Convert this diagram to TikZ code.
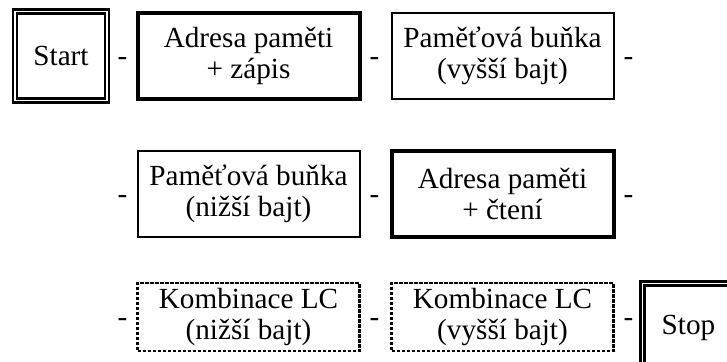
\documentclass[tikz,border=0pt]{standalone}
\usepackage{fontspec}
\setmainfont{Liberation Serif}
\usetikzlibrary{calc}
\tikzset{
    block/.style = {draw, rectangle, inner sep=0pt,
        minimum height=43pt,
        minimum width=111pt, align=center,
        font=\fontsize{14.6}{15.3}\selectfont},
    textblock/.style = {block, execute at begin node={\rule{0pt}{13pt}}},
    thickblock/.style = {textblock, line width=2pt},
    thinblock/.style = {textblock, line width=1pt},
    dashblock/.style = {textblock, line width=1.1pt, dash pattern=on 1.8pt off 0.7pt, minimum height=33.75pt},
    term/.style = {block, double, line width=1.25pt, double distance=0.6pt,
        minimum width=46pt, minimum height=44.5pt},
    sep/.style = {inner sep=0pt, yshift=-3pt, font=\fontsize{14.6}{15.3}\selectfont}
}

\begin{document}
\begin{tikzpicture}[x=0.5pt, y=-0.5pt]
    \useasboundingbox (0,0) rectangle (727,361);
    \clip (0,0) rectangle (727,361);
    % first row
    \node [term] (start) at (61,56) {Start};
    \node [thickblock, right of=start, node distance=93.75pt] (adrzap) {Adresa paměti\\+ zápis};
    \node [thinblock, right of=adrzap, node distance=127pt] (bunkahi) {Paměťová buňka\\(vyšší bajt)};
    % second row
    \node [thinblock, below of=adrzap, node distance=69pt] (bunkalo) {Paměťová buňka\\(nižší bajt)};
    \node [thickblock, right of=bunkalo, node distance=127pt] (adrcteni) {Adresa paměti\\+ čtení};
    % third row
    \node [dashblock, below of=bunkalo, node distance=61.5pt] (lclo) {Kombinace LC\\(nižší bajt)};
    \node [dashblock, right of=lclo, node distance=127pt] (lchi) {Kombinace LC\\(vyšší bajt)};
    \node [term] (stop) at (688.5,328) {Stop};
    % separators
    \foreach \a in {adrzap, bunkalo, lclo}
        \node [sep, left of=\a, node distance=63pt] (lsep\a) {-};
    \foreach \a in {adrzap, bunkahi, bunkalo, adrcteni, lclo, lchi}
        \node [sep, right of=\a, node distance=63pt] (rsep\a) {-};
\end{tikzpicture}
\end{document}
